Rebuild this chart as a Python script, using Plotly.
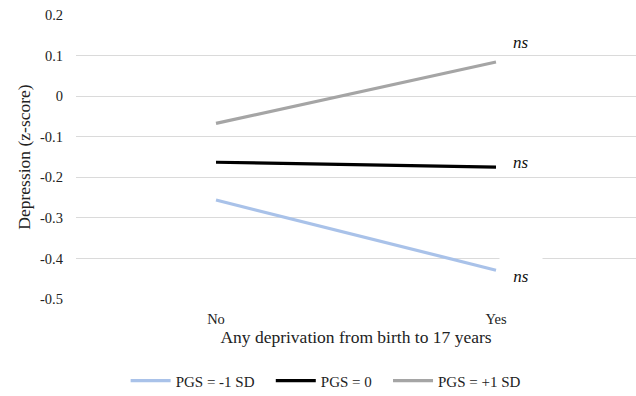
import plotly.graph_objects as go

categories = ["No", "Yes"]
series_names = ["PGS = -1 SD", "PGS = 0", "PGS = +1 SD"]
pgs_minus1 = [-0.256, -0.429]
pgs_zero = [-0.163, -0.175]
pgs_plus1 = [-0.067, 0.084]
colors = ["#A9C2E9", "#000000", "#A5A5A5"]
sig_labels = ["ns", "ns", "ns"]
y_ticks = [0.2, 0.1, 0, -0.1, -0.2, -0.3, -0.4, -0.5]
y_ticktext = ["0.2", "0.1", "0", "-0.1", "-0.2", "-0.3", "-0.4", "-0.5"]

FONT = "Liberation Serif"
PAD = "\u00a0" * 3  # spacing between legend entries

fig = go.Figure()
all_series = [pgs_minus1, pgs_zero, pgs_plus1]
for i, (name, vals, col) in enumerate(zip(series_names, all_series, colors)):
    fig.add_trace(go.Scatter(
        x=categories, y=vals, mode="lines",
        name=name + (PAD if i < len(series_names) - 1 else ""),
        line=dict(color=col, width=3.2),
    ))

# significance labels at the "Yes" end of each line
shifts = [(-6, True), (5, False), (20, False)]
for vals, lab, (ys, box) in zip(all_series, sig_labels, shifts):
    fig.add_annotation(
        x=categories[1], y=vals[1], xref="x", yref="y",
        text=f"<i>{lab}</i>", showarrow=False,
        xshift=25, yshift=ys,
        font=dict(family=FONT, size=17, color="#111111"),
        bgcolor="white" if box else "rgba(0,0,0,0)",
        width=40 if box else None, height=40 if box else None,
    )

fig.update_layout(
    width=636, height=396,
    margin=dict(l=76, r=0, t=15, b=97),
    paper_bgcolor="white", plot_bgcolor="white",
    font=dict(family=FONT, size=14, color="#222222"),
    showlegend=True,
    legend=dict(
        orientation="h", xref="container", yref="container",
        x=0.512, xanchor="center", y=0.038, yanchor="middle",
        font=dict(family=FONT, size=15, color="#222222"),
        itemwidth=40, tracegroupgap=0,
    ),
    xaxis=dict(
        type="category", range=[-0.5, 1.5],
        showgrid=False, showline=False, zeroline=False,
        tickfont=dict(family=FONT, size=14.5),
        ticklabelstandoff=9,
        title=dict(text="Any deprivation from birth to 17 years",
                   font=dict(family=FONT, size=17.5), standoff=4),
    ),
    yaxis=dict(
        range=[-0.5, 0.2], tickvals=y_ticks, ticktext=y_ticktext,
        showgrid=True, gridcolor="#DADADA", gridwidth=1,
        zeroline=False, showline=False,
        tickfont=dict(family=FONT, size=14.5),
        ticklabelstandoff=12,
        title=dict(text="Depression (z-score)",
                   font=dict(family=FONT, size=17.5), standoff=4),
    ),
)

fig.write_html("out.html")
